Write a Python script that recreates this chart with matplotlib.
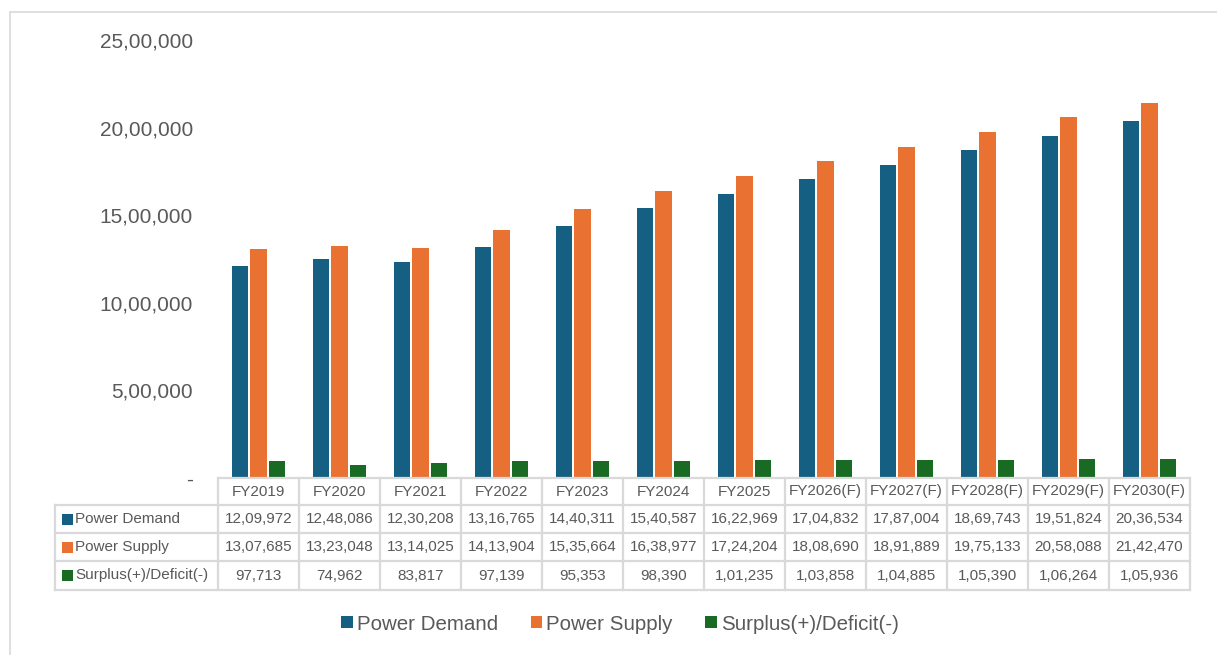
import matplotlib
import matplotlib.pyplot as plt
import matplotlib.transforms as mtransforms
from matplotlib.lines import Line2D
from matplotlib.patches import Rectangle
import numpy as np

matplotlib.use('Agg')
plt.rcParams['font.family'] = ['Liberation Sans', 'DejaVu Sans']

years = ['FY2019', 'FY2020', 'FY2021', 'FY2022', 'FY2023', 'FY2024', 'FY2025',
         'FY2026(F)', 'FY2027(F)', 'FY2028(F)', 'FY2029(F)', 'FY2030(F)']
demand = [1209972, 1248086, 1230208, 1316765, 1440311, 1540587, 1622969,
          1704832, 1787004, 1869743, 1951824, 2036534]
supply = [1307685, 1323048, 1314025, 1413904, 1535664, 1638977, 1724204,
          1808690, 1891889, 1975133, 2058088, 2142470]
surplus = [97713, 74962, 83817, 97139, 95353, 98390, 101235,
           103858, 104885, 105390, 106264, 105936]
series_names = ['Power Demand', 'Power Supply', 'Surplus(+)/Deficit(-)']
colors = ['#156082', '#E97132', '#196B24']

TEXT = '#595959'
GRID = '#d9d9d9'
W, H = 1217, 655


def indian(v):
    # lakh-style grouping: 12,34,567
    s = str(int(v))
    if len(s) <= 3:
        return s
    head, tail = s[:-3], s[-3:]
    parts = []
    while len(head) > 2:
        parts.insert(0, head[-2:])
        head = head[:-2]
    if head:
        parts.insert(0, head)
    return ','.join(parts + [tail])


fig = plt.figure(figsize=(W / 100, H / 100), dpi=100)
ax = fig.add_axes([218 / W, 1 - 478 / H, (1190 - 218) / W, (478 - 40) / H])

x = np.arange(len(years))
bw = 0.2
gap = 0.025
for k, (vals, c) in enumerate(zip([demand, supply, surplus], colors)):
    ax.bar(x + (k - 1) * (bw + gap), vals, width=bw, color=c, label=series_names[k])

ax.set_xlim(-0.5, len(years) - 0.5)
ax.set_ylim(0, 2500000)
ax.set_yticks(np.arange(0, 2500001, 500000))
ax.set_yticklabels(['-'] + [indian(v) for v in np.arange(500000, 2500001, 500000)])
ax.tick_params(axis='y', length=0, pad=18, labelsize=15, labelcolor=TEXT)
ax.tick_params(axis='x', length=0, labelbottom=False)
for s in ax.spines.values():
    s.set_visible(False)

# data table under the plot
tr = mtransforms.blended_transform_factory(ax.transData, fig.transFigure)
row_y = [1 - y / H for y in (478, 505, 533, 561, 590)]
col_w_px = (1190 - 218) / len(years)
left_edge = -0.5 - (218 - 55) / col_w_px
right_edge = len(years) - 0.5
lw = 1.6

# header row
fig.add_artist(Line2D([-0.5, right_edge], [row_y[0]] * 2, transform=tr, color=GRID, lw=lw))
for yy in row_y[1:]:
    fig.add_artist(Line2D([left_edge, right_edge], [yy] * 2, transform=tr, color=GRID, lw=lw))
for i in range(len(years) + 1):
    fig.add_artist(Line2D([i - 0.5] * 2, [row_y[0], row_y[-1]], transform=tr, color=GRID, lw=lw))
fig.add_artist(Line2D([left_edge] * 2, [row_y[1], row_y[-1]], transform=tr, color=GRID, lw=lw))

for i, yr in enumerate(years):
    fig.text(i, (row_y[0] + row_y[1]) / 2, yr, transform=tr, ha='center', va='center',
             fontsize=11, color=TEXT)

for r, (vals, name, c) in enumerate(zip([demand, supply, surplus], series_names, colors)):
    yc = (row_y[r + 1] + row_y[r + 2]) / 2
    fig.add_artist(Rectangle((62 / W, yc - 5.5 / H), 11 / W, 11 / H,
                             transform=fig.transFigure, color=c, lw=0))
    fig.text(75 / W, yc, name, ha='left', va='center', fontsize=11, color=TEXT)
    for i, v in enumerate(vals):
        fig.text(i, yc, indian(v), transform=tr, ha='center', va='center',
                 fontsize=11, color=TEXT)

leg = fig.legend(loc='center', bbox_to_anchor=(620 / W, 1 - 624 / H), ncol=3, frameon=False,
                 fontsize=14.8, handlelength=0.55, handleheight=0.55, handletextpad=0.2,
                 columnspacing=1.6, labelcolor=TEXT)

# chart border
fig.add_artist(Rectangle((10 / W, -0.05), 1.2, 1 - 12 / H + 0.05,
                         transform=fig.transFigure, fill=False, ec=GRID, lw=1.2))

fig.savefig('out.png', dpi=100)
